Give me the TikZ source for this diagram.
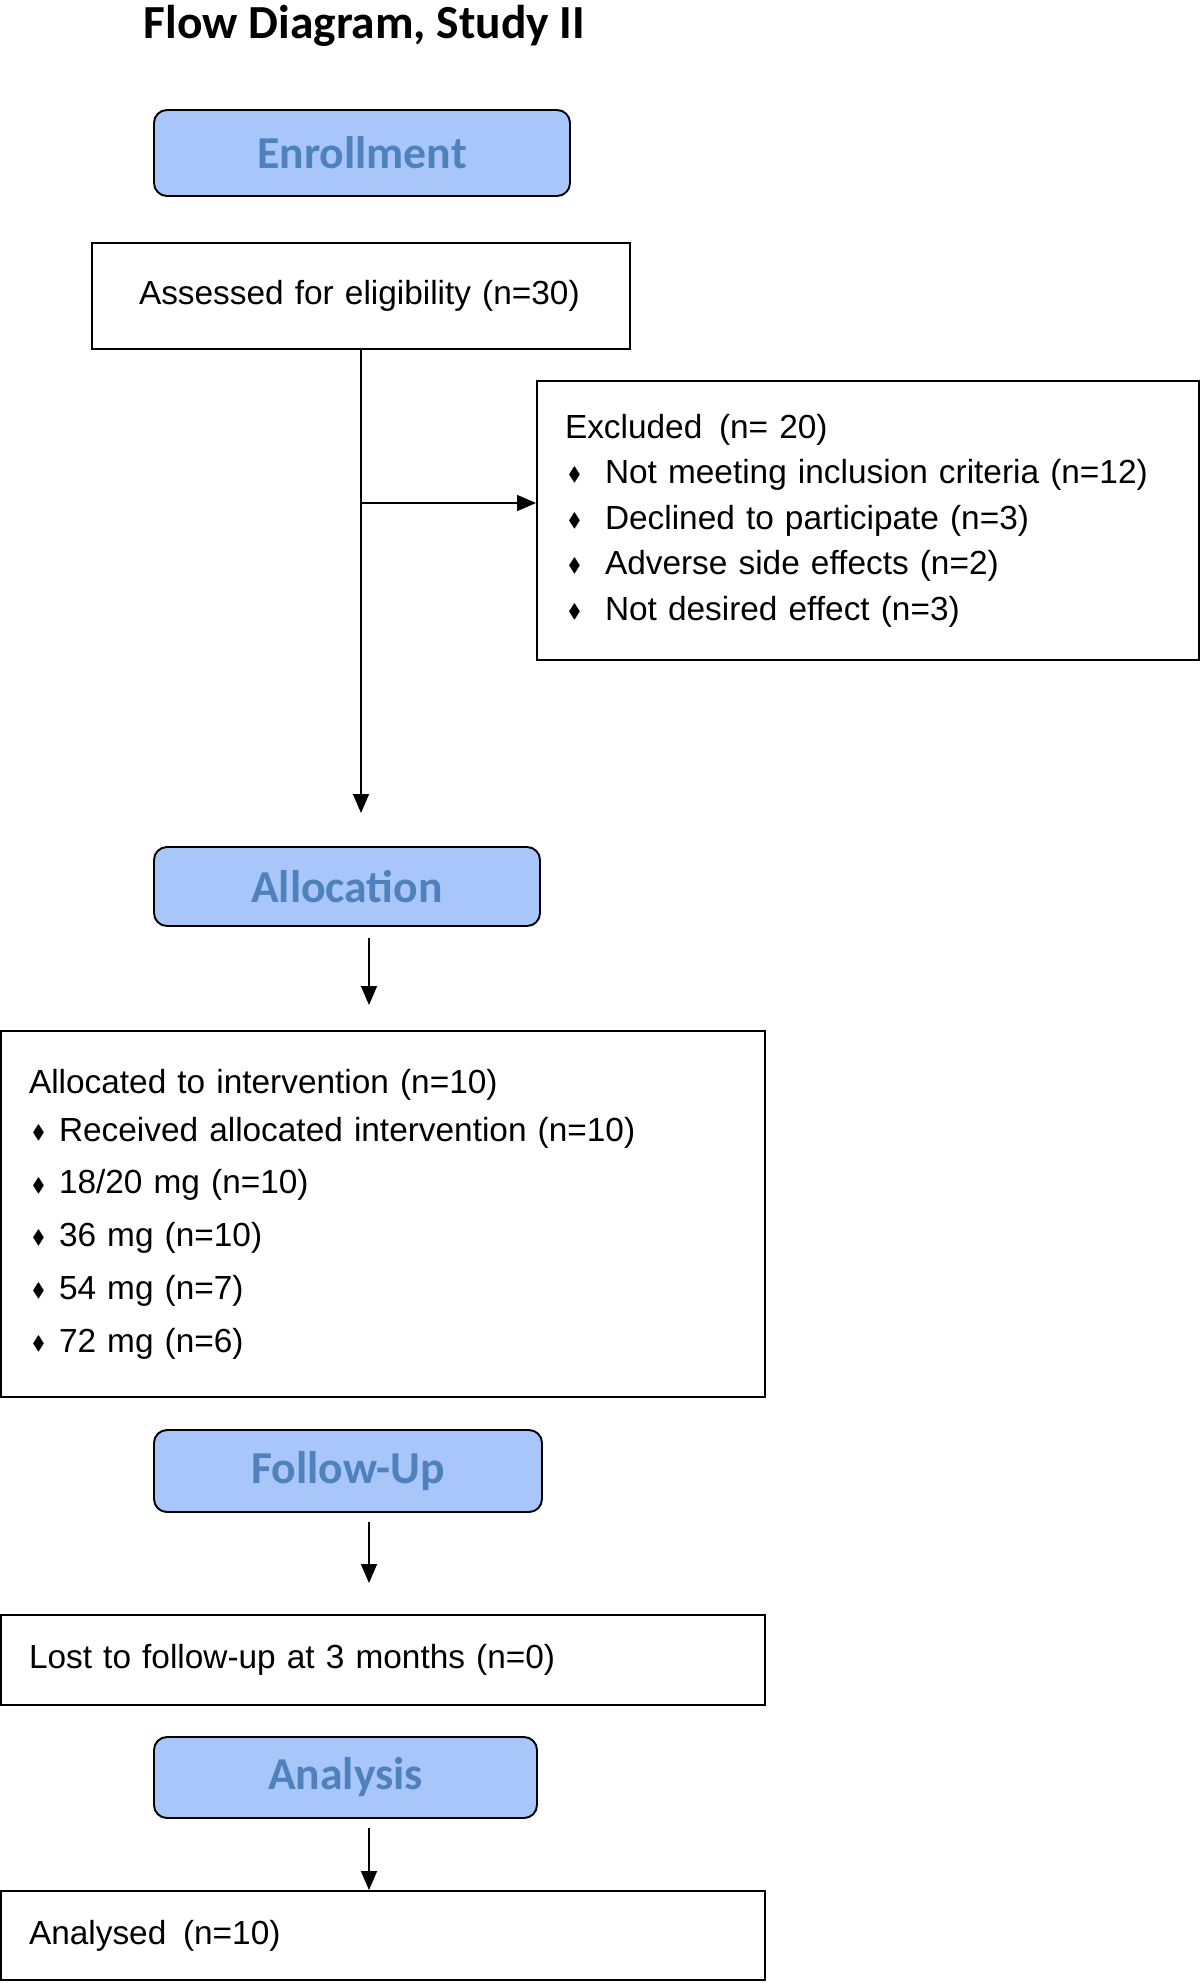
\documentclass[tikz,border=0pt]{standalone}
\usepackage{fontspec}
\usepackage{amssymb}
\usepackage{graphicx}
\setmainfont{Liberation Sans}
\newfontfamily\headfont{Carlito}
\usetikzlibrary{arrows.meta}
\definecolor{phasefill}{HTML}{A9C6FA}
\definecolor{phasetext}{HTML}{4F81BD}
\newcommand{\bul}{\raisebox{0.08em}{\fontsize{11}{11}\selectfont$\blacklozenge$}}
\newcommand{\bitem}[1]{\makebox[#1][l]{\hspace{0.06cm}\bul}}
\begin{document}
\begin{tikzpicture}[>={Triangle[width=0.32cm,length=0.38cm]}, line width=0.85pt,
    phase/.style={draw, line width=1.1pt, rounded corners=0.26cm, fill=phasefill, text=phasetext,
      font=\headfont\bfseries\fontsize{26}{30}\selectfont},
    box/.style={draw, line width=1.1pt, align=left, inner ysep=0pt}]
    \useasboundingbox (0,0) rectangle (24,-39.66);
    % Title
    \node[font=\headfont\bfseries\fontsize{27}{32}\selectfont, anchor=base west] (title) at (2.74,-0.78) {Flow Diagram, Study II};

    % Enrollment
    \node[phase, minimum width=8.32cm, minimum height=1.72cm] (enrol) at (7.24,-3.06) {Enrollment};
    \node[box, text width=8.88cm, inner xsep=0.94cm, minimum height=2.12cm, font=\fontsize{19}{26}\selectfont] (assess) at (7.22,-5.92) {Assessed for eligibility (n=30)};
    \node[box, text width=12.12cm, inner xsep=0.56cm, minimum height=5.58cm, font=\fontsize{19}{25.9}\selectfont] (excl) at (17.36,-10.41) {Excluded\enspace(n= 20)\\
      \bitem{0.8cm}Not meeting inclusion criteria (n=12)\\
      \bitem{0.8cm}Declined to participate (n=3)\\
      \bitem{0.8cm}Adverse side effects (n=2)\\
      \bitem{0.8cm}Not desired effect (n=3)};

    \coordinate (split) at (7.22,-10.06);
    \coordinate (e1) at (7.22,-16.26);
    \draw[->] (assess.south) -- (e1);
    \draw[->] (split) -- (excl.west |- split);

    % Allocation
    \node[phase, minimum width=7.72cm, minimum height=1.58cm] (alloc) at (6.94,-17.73) {Allocation};
    \node[box, text width=14.16cm, inner xsep=0.56cm, minimum height=7.32cm, font=\fontsize{19}{30}\selectfont] (allocd) at (7.66,-24.28) {Allocated to intervention (n=10)\\[-2.7pt]
      \bitem{0.6cm}Received allocated intervention (n=10)\\
      \bitem{0.6cm}18/20 mg (n=10)\\
      \bitem{0.6cm}36 mg (n=10)\\
      \bitem{0.6cm}54 mg (n=7)\\
      \bitem{0.6cm}72 mg (n=6)\par\vspace*{0.5cm}};
    \coordinate (a1) at (7.38,-18.76);
    \coordinate (a2) at (7.38,-20.10);
    \draw[->] (a1) -- (a2);

    % Follow-Up
    \node[phase, minimum width=7.76cm, minimum height=1.64cm] (follow) at (6.96,-29.42) {Follow-Up};
    \node[box, text width=14.16cm, inner xsep=0.56cm, minimum height=1.8cm, font=\fontsize{19}{26}\selectfont] (lost) at (7.66,-33.2) {Lost to follow-up at 3 months (n=0)};
    \coordinate (f1) at (7.38,-30.44);
    \coordinate (f2) at (7.38,-31.66);
    \draw[->] (f1) -- (f2);

    % Analysis
    \node[phase, minimum width=7.66cm, minimum height=1.62cm] (anal) at (6.91,-35.55) {Analysis};
    \node[box, text width=14.16cm, inner xsep=0.56cm, minimum height=1.78cm, font=\fontsize{19}{26}\selectfont] (analysed) at (7.66,-38.71) {Analysed\enspace(n=10)};
    \coordinate (n1) at (7.38,-36.56);
    \draw[->] (n1) -- (analysed.north -| n1);
\end{tikzpicture}
\end{document}
